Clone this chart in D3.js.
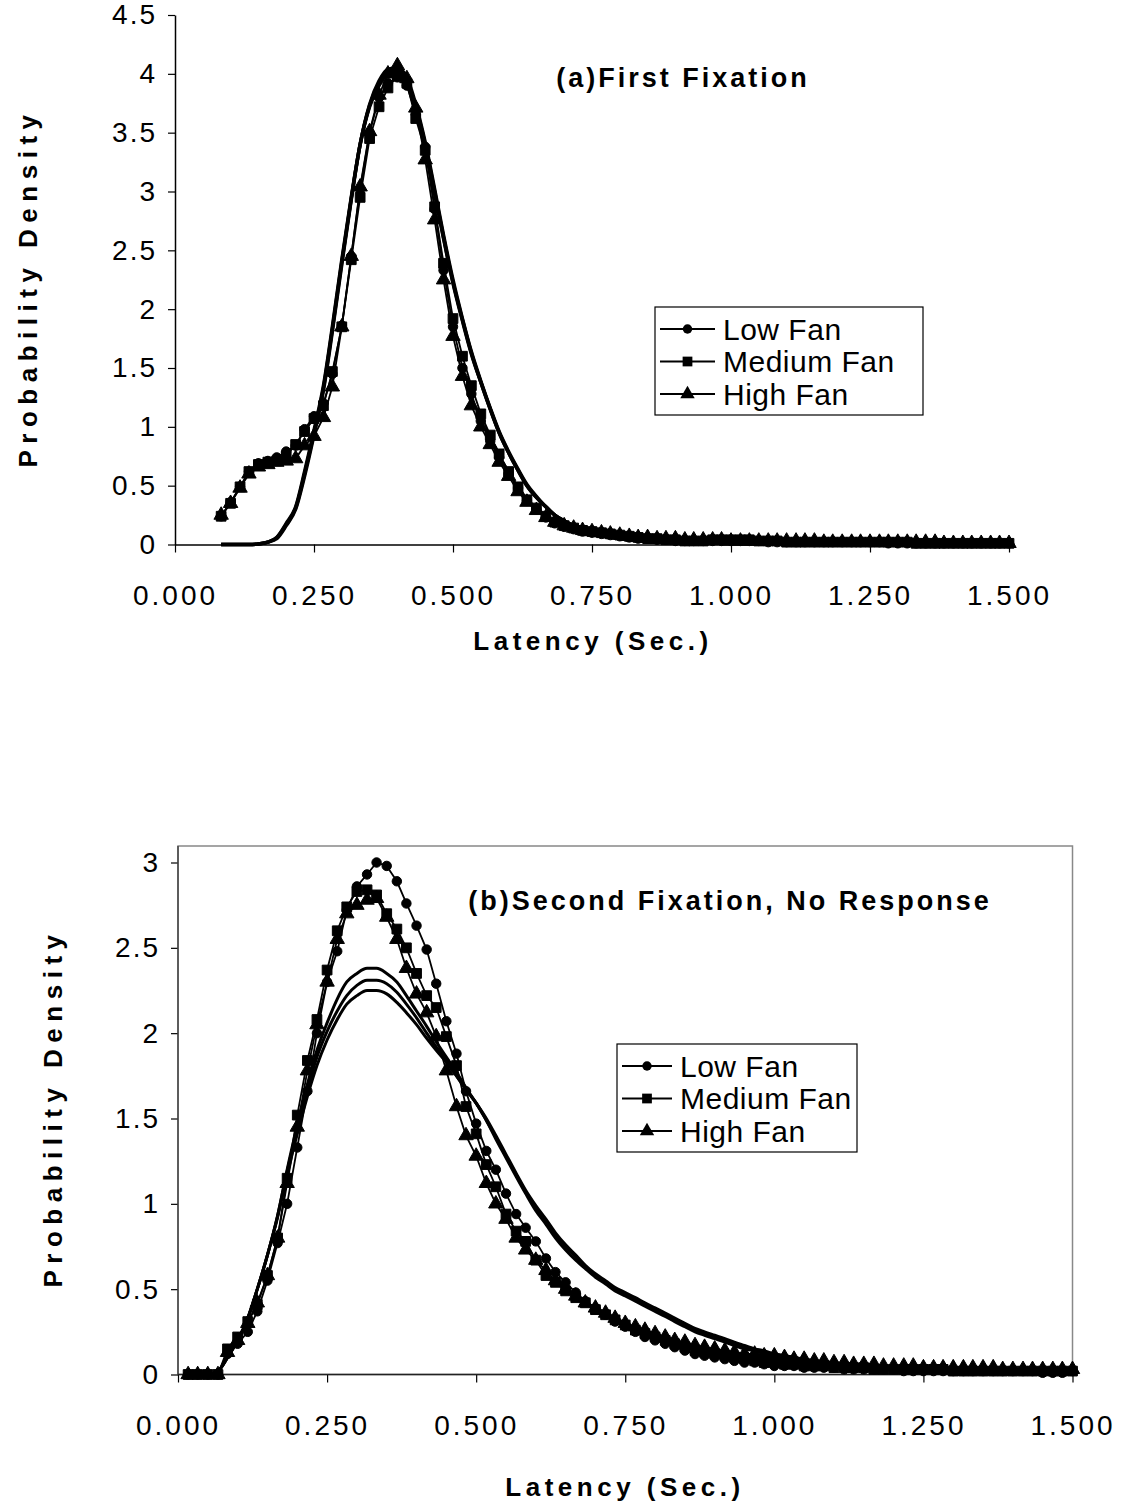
<!DOCTYPE html>
<meta charset="utf-8">
<head>
<script src="https://d3js.org/d3.v7.min.js"></script>
<style>
  body { margin: 0; background: #fff; }
  text { font-family: Arial, "Liberation Sans", sans-serif; fill: #000; }
</style>
</head>
<body>
<div id="chart"></div>
<script>

// latency of each 60 Hz frame (sec.)
var latency = [0.017,0.033,0.050,0.067,0.083,0.100,0.117,0.133,0.150,0.167,
  0.183,0.200,0.217,0.233,0.250,0.267,0.283,0.300,0.317,0.333,
  0.350,0.367,0.383,0.400,0.417,0.433,0.450,0.467,0.483,0.500,
  0.517,0.533,0.550,0.567,0.583,0.600,0.617,0.633,0.650,0.667,
  0.683,0.700,0.717,0.733,0.750,0.767,0.783,0.800,0.817,0.833,
  0.850,0.867,0.883,0.900,0.917,0.933,0.950,0.967,0.983,1.000,
  1.017,1.033,1.050,1.067,1.083,1.100,1.117,1.133,1.150,1.167,
  1.183,1.200,1.217,1.233,1.250,1.267,1.283,1.300,1.317,1.333,
  1.350,1.367,1.383,1.400,1.417,1.433,1.450,1.467,1.483,1.500];

var fanLevels = ["Low Fan", "Medium Fan", "High Fan"];
var xTicks = [0, 0.25, 0.5, 0.75, 1.0, 1.25, 1.5];
var yTicksFirst = [0, 0.5, 1, 1.5, 2, 2.5, 3, 3.5, 4, 4.5];
var yTicksSecond = [0, 0.5, 1, 1.5, 2, 2.5, 3];

// (a) first fixation: observed, starts at frame 5 (0.083 s)
var firstLow = [0.24,0.36,0.49,0.62,0.69,0.71,0.74,0.79,0.84,0.98,
  1.09,1.20,1.45,1.86,2.45,3.02,3.50,3.80,3.92,3.97,
  3.90,3.66,3.38,2.85,2.33,1.85,1.50,1.28,1.05,0.88,
  0.74,0.60,0.48,0.37,0.30,0.23,0.18,0.15,0.13,0.11,
  0.10,0.09,0.08,0.07,0.06,0.05,0.05,0.04,0.04,0.03,
  0.03,0.03,0.03,0.03,0.03,0.03,0.03,0.03,0.03,0.02,
  0.02,0.02,0.02,0.02,0.02,0.02,0.02,0.02,0.02,0.02,
  0.02,0.02,0.01,0.01,0.01,0.01,0.01,0.01,0.01,0.01,
  0.01,0.01,0.01,0.01,0.01,0.01];
var firstMedium = [0.24,0.35,0.49,0.62,0.68,0.70,0.71,0.75,0.85,0.96,
  1.07,1.18,1.47,1.85,2.42,2.95,3.45,3.72,3.88,3.98,
  3.92,3.62,3.35,2.87,2.39,1.92,1.60,1.35,1.11,0.93,
  0.77,0.62,0.49,0.38,0.31,0.24,0.19,0.16,0.14,0.12,
  0.11,0.10,0.09,0.08,0.07,0.06,0.05,0.05,0.04,0.04,
  0.03,0.03,0.03,0.04,0.04,0.04,0.04,0.04,0.03,0.03,
  0.03,0.02,0.02,0.02,0.02,0.02,0.02,0.02,0.02,0.02,
  0.02,0.02,0.02,0.02,0.02,0.01,0.01,0.01,0.01,0.01,
  0.01,0.01,0.01,0.01,0.01,0.01];
var firstHigh = [0.25,0.35,0.48,0.60,0.66,0.68,0.70,0.71,0.73,0.84,
  0.92,1.08,1.34,1.85,2.45,3.04,3.51,3.82,4.00,4.07,
  3.96,3.71,3.27,2.76,2.25,1.77,1.43,1.18,1.00,0.85,
  0.70,0.58,0.45,0.36,0.29,0.23,0.19,0.16,0.14,0.12,
  0.11,0.10,0.09,0.08,0.07,0.06,0.06,0.05,0.05,0.05,
  0.04,0.04,0.04,0.04,0.04,0.03,0.03,0.03,0.03,0.03,
  0.03,0.03,0.03,0.03,0.03,0.02,0.02,0.02,0.02,0.02,
  0.02,0.02,0.02,0.02,0.02,0.02,0.02,0.02,0.01,0.01,
  0.01,0.01,0.01,0.01,0.01,0.01];

// (a) model predictions
var firstModelLow = [0,0,0,0,0.005,0.02,0.06,0.18,0.32,0.62,
  0.97,1.35,1.85,2.42,2.95,3.40,3.72,3.90,4.00,4.02,
  3.93,3.70,3.38,2.98,2.60,2.22,1.90,1.62,1.38,1.15,
  0.95,0.78,0.63,0.50,0.40,0.32,0.25,0.20,0.16,0.13,
  0.10,0.08,0.065,0.05,0.04,0.035,0.03,0.025,0.02,0.02,
  0.02,0.015,0.015,0.015,0.01,0.01,0.01,0.01,0.01,0.01,
  0.01,0.01,0.01,0.01,0.01,0.01,0.01,0.01,0.01,0.01,
  0.005,0.005,0.005,0.005,0.005,0.005,0.005,0.005,0.005,0.005,
  0.005,0.005,0.005,0.005,0.005,0.005];
var firstModelMedium = [0,0,0,0,0.005,0.02,0.06,0.17,0.31,0.60,
  0.95,1.33,1.83,2.40,2.94,3.40,3.73,3.92,4.02,4.04,
  3.95,3.72,3.40,3.00,2.61,2.23,1.91,1.63,1.38,1.15,
  0.95,0.78,0.63,0.50,0.40,0.32,0.25,0.20,0.16,0.13,
  0.10,0.08,0.065,0.05,0.04,0.035,0.03,0.025,0.02,0.02,
  0.02,0.015,0.015,0.015,0.01,0.01,0.01,0.01,0.01,0.01,
  0.01,0.01,0.01,0.01,0.01,0.01,0.01,0.01,0.01,0.01,
  0.005,0.005,0.005,0.005,0.005,0.005,0.005,0.005,0.005,0.005,
  0.005,0.005,0.005,0.005,0.005,0.005];
var firstModelHigh = [0,0,0,0,0.005,0.02,0.05,0.16,0.30,0.58,
  0.93,1.31,1.81,2.38,2.93,3.40,3.74,3.94,4.04,4.05,
  3.97,3.74,3.42,3.02,2.63,2.25,1.92,1.64,1.39,1.16,
  0.96,0.79,0.64,0.51,0.41,0.32,0.25,0.20,0.16,0.13,
  0.10,0.08,0.065,0.05,0.04,0.035,0.03,0.025,0.02,0.02,
  0.02,0.015,0.015,0.015,0.01,0.01,0.01,0.01,0.01,0.01,
  0.01,0.01,0.01,0.01,0.01,0.01,0.01,0.01,0.01,0.01,
  0.005,0.005,0.005,0.005,0.005,0.005,0.005,0.005,0.005,0.005,
  0.005,0.005,0.005,0.005,0.005,0.005];

// (b) second fixation, no response: observed, from frame 1
var secondLow = [0,0,0,0,
  0.12,0.18,0.25,0.37,0.55,0.77,1.00,1.33,1.66,2.00,
  2.30,2.48,2.72,2.86,2.93,3.00,2.98,2.89,2.76,2.63,
  2.49,2.29,2.07,1.88,1.66,1.47,1.31,1.20,1.06,0.94,
  0.86,0.78,0.68,0.60,0.54,0.48,0.43,0.39,0.35,0.31,
  0.28,0.25,0.22,0.20,0.18,0.16,0.14,0.12,0.11,0.10,
  0.09,0.08,0.07,0.07,0.06,0.05,0.05,0.05,0.04,0.04,
  0.04,0.04,0.03,0.03,0.03,0.03,0.03,0.03,0.02,0.02,
  0.02,0.02,0.02,0.02,0.02,0.02,0.02,0.02,0.02,0.02,
  0.02,0.02,0.01,0.01,0.01,0.02];
var secondMedium = [0,0,0,0,
  0.15,0.22,0.31,0.41,0.58,0.80,1.15,1.52,1.84,2.08,
  2.37,2.60,2.74,2.83,2.84,2.81,2.70,2.61,2.50,2.35,
  2.22,2.15,1.98,1.81,1.57,1.41,1.23,1.10,0.94,0.84,
  0.78,0.67,0.58,0.54,0.49,0.45,0.42,0.38,0.35,0.32,
  0.29,0.26,0.24,0.22,0.20,0.18,0.16,0.14,0.13,0.12,
  0.11,0.10,0.09,0.08,0.07,0.07,0.06,0.06,0.05,0.05,
  0.05,0.04,0.04,0.04,0.04,0.03,0.03,0.03,0.03,0.03,
  0.03,0.03,0.03,0.02,0.02,0.02,0.02,0.02,0.02,0.02,
  0.02,0.02,0.02,0.02,0.02,0.02];
var secondHigh = [0,0,0,0,
  0.13,0.20,0.30,0.42,0.58,0.80,1.12,1.45,1.78,2.05,
  2.30,2.55,2.70,2.75,2.78,2.79,2.68,2.55,2.38,2.23,
  2.12,1.98,1.78,1.57,1.40,1.28,1.12,1.00,0.91,0.80,
  0.73,0.67,0.61,0.55,0.50,0.46,0.42,0.39,0.36,0.33,
  0.30,0.28,0.26,0.24,0.22,0.20,0.19,0.17,0.16,0.15,
  0.14,0.13,0.12,0.12,0.11,0.11,0.10,0.09,0.09,0.08,
  0.08,0.07,0.07,0.06,0.06,0.06,0.05,0.05,0.05,0.05,
  0.04,0.04,0.04,0.04,0.04,0.04,0.04,0.04,0.03,0.03,
  0.03,0.03,0.03,0.03,0.03,0.03];

// (b) model predictions
var secondModelLow = [0,0,0,0.02,
  0.10,0.20,0.33,0.50,0.70,0.93,1.20,1.46,1.70,1.90,
  2.06,2.20,2.30,2.35,2.38,2.38,2.35,2.30,2.22,2.13,
  2.04,1.95,1.86,1.77,1.68,1.59,1.49,1.38,1.27,1.16,
  1.06,0.96,0.88,0.80,0.73,0.67,0.62,0.57,0.53,0.49,
  0.46,0.43,0.40,0.37,0.34,0.31,0.28,0.25,0.23,0.21,
  0.19,0.17,0.15,0.14,0.12,0.11,0.10,0.09,0.08,0.07,
  0.065,0.06,0.05,0.045,0.04,0.035,0.03,0.03,0.025,0.025,
  0.02,0.02,0.02,0.02,0.015,0.015,0.015,0.015,0.01,0.01,
  0.01,0.01,0.01,0.01,0.01,0.01];
var secondModelMedium = [0,0,0,0.02,
  0.10,0.20,0.33,0.50,0.70,0.93,1.19,1.44,1.67,1.86,
  2.01,2.13,2.22,2.28,2.31,2.31,2.29,2.24,2.17,2.09,
  2.00,1.92,1.84,1.75,1.67,1.59,1.49,1.39,1.28,1.17,
  1.07,0.98,0.90,0.82,0.75,0.69,0.63,0.58,0.54,0.50,
  0.47,0.44,0.41,0.38,0.35,0.32,0.29,0.26,0.24,0.22,
  0.20,0.18,0.16,0.15,0.13,0.12,0.11,0.10,0.09,0.08,
  0.07,0.065,0.055,0.05,0.045,0.04,0.035,0.03,0.03,0.025,
  0.025,0.02,0.02,0.02,0.02,0.015,0.015,0.015,0.01,0.01,
  0.01,0.01,0.01,0.01,0.01,0.01];
var secondModelHigh = [0,0,0,0.02,
  0.10,0.20,0.33,0.50,0.70,0.92,1.17,1.41,1.63,1.81,
  1.96,2.08,2.17,2.22,2.25,2.25,2.23,2.18,2.12,2.05,
  1.97,1.90,1.83,1.75,1.67,1.59,1.50,1.40,1.29,1.18,
  1.08,0.99,0.91,0.83,0.76,0.70,0.64,0.59,0.55,0.51,
  0.48,0.45,0.42,0.39,0.36,0.33,0.30,0.27,0.25,0.23,
  0.21,0.19,0.17,0.15,0.14,0.12,0.11,0.10,0.09,0.08,
  0.075,0.07,0.06,0.055,0.05,0.045,0.04,0.035,0.03,0.03,
  0.025,0.025,0.02,0.02,0.02,0.02,0.015,0.015,0.015,0.01,
  0.01,0.01,0.01,0.01,0.01,0.01];

var svg = d3.select("#chart").append("svg")
  .attr("width", 1125)
  .attr("height", 1506);

var markerTypes = [d3.symbolCircle, d3.symbolSquare, d3.symbolTriangle];
var markerSizes = [70, 95, 90];

function pairUp(values) {
  var start = latency.length - values.length;
  return values.map(function(v, i) { return [latency[start + i], v]; });
}

function drawPanel(p) {
  var x = d3.scaleLinear().domain([0, 1.5]).range([p.left, p.right]);
  var y = d3.scaleLinear().domain([0, p.yMax]).range([p.bottom, p.yTop]);

  if (p.frame) {
    svg.append("rect")
      .attr("x", p.left).attr("y", p.frameTop)
      .attr("width", p.right - p.left).attr("height", p.bottom - p.frameTop)
      .attr("fill", "none").attr("stroke", "#888").attr("stroke-width", 1.5);
  }

  var yAxis = svg.append("g")
    .attr("transform", "translate(" + p.left + ",0)")
    .call(d3.axisLeft(y).tickValues(p.yTicks).tickFormat(function(d) { return String(d); })
      .tickSize(7).tickPadding(11).tickSizeOuter(0));
  var xAxis = svg.append("g")
    .attr("transform", "translate(0," + p.bottom + ")")
    .call(d3.axisBottom(x).tickValues(xTicks).tickFormat(d3.format(".3f"))
      .tickSize(8).tickPadding(42).tickSizeOuter(0));

  [yAxis, xAxis].forEach(function(ax) {
    ax.select(".domain").attr("stroke", "#000").attr("stroke-width", 1.5);
    ax.selectAll(".tick line").attr("stroke", "#000").attr("stroke-width", 1.2);
    ax.selectAll("text")
      .style("font-family", "Arial, 'Liberation Sans', sans-serif")
      .style("font-size", "28px")
      .attr("fill", "#000");
  });
  xAxis.selectAll("text").attr("dy", "0.36em").style("letter-spacing", "3px");
  yAxis.selectAll("text").style("letter-spacing", "2px");
  if (p.frame) {
    yAxis.select(".domain").remove();
    xAxis.select(".domain").remove();
    svg.append("line").attr("x1", p.left).attr("x2", p.left)
      .attr("y1", p.frameTop).attr("y2", p.bottom).attr("stroke", "#444").attr("stroke-width", 1.5);
    svg.append("line").attr("x1", p.left).attr("x2", p.right)
      .attr("y1", p.bottom).attr("y2", p.bottom).attr("stroke", "#222").attr("stroke-width", 1.5);
  }

  // axis titles
  svg.append("text")
    .attr("x", p.xTitleX).attr("y", p.xTitleY)
    .attr("text-anchor", "middle")
    .style("font-weight", "bold").style("font-size", "26px").style("letter-spacing", "4.5px")
    .text("Latency  (Sec.)");
  svg.append("text")
    .attr("transform", "translate(" + p.yTitleX + "," + p.yTitleY + ") rotate(-90)")
    .attr("text-anchor", "middle")
    .style("font-weight", "bold").style("font-size", "26px").style("letter-spacing", "6.5px")
    .text("Probability  Density");

  svg.append("text")
    .attr("x", p.titleX).attr("y", p.titleY)
    .attr("text-anchor", "middle")
    .style("font-weight", "bold").style("font-size", "27px").style("letter-spacing", "3px")
    .text(p.title);

  var smooth = d3.line()
    .x(function(d) { return x(d[0]); })
    .y(function(d) { return y(d[1]); })
    .curve(d3.curveMonotoneX);
  var straight = d3.line()
    .x(function(d) { return x(d[0]); })
    .y(function(d) { return y(d[1]); });

  // model predictions: thick smooth lines, no markers
  p.models.forEach(function(m) {
    svg.append("path")
      .attr("d", smooth(pairUp(m)))
      .attr("fill", "none")
      .attr("stroke", "#000")
      .attr("stroke-width", p.modelWidth);
  });

  // observed data with markers
  p.observed.forEach(function(s, i) {
    var pts = pairUp(s);
    svg.append("path")
      .attr("d", straight(pts))
      .attr("fill", "none")
      .attr("stroke", "#000")
      .attr("stroke-width", 1.8);
    svg.append("g").selectAll("path")
      .data(pts)
      .enter().append("path")
      .attr("transform", function(d) { return "translate(" + x(d[0]) + "," + y(d[1]) + ")"; })
      .attr("d", d3.symbol().type(markerTypes[i]).size(markerSizes[i]))
      .attr("fill", "#000")
      .attr("stroke", "#000")
      .attr("stroke-width", 1);
  });

  // legend
  var lg = svg.append("g").attr("transform", "translate(" + p.legendX + "," + p.legendY + ")");
  lg.append("rect")
    .attr("width", p.legendW).attr("height", 108)
    .attr("fill", "#fff").attr("stroke", "#000").attr("stroke-width", 1.2);
  fanLevels.forEach(function(name, i) {
    var ry = 22 + i * 32.5;
    lg.append("line").attr("x1", 5).attr("x2", p.legendLine).attr("y1", ry).attr("y2", ry)
      .attr("stroke", "#000").attr("stroke-width", 1.8);
    lg.append("path")
      .attr("transform", "translate(" + (p.legendLine + 5) / 2 + "," + ry + ")")
      .attr("d", d3.symbol().type(markerTypes[i]).size(markerSizes[i]))
      .attr("fill", "#000");
    lg.append("text")
      .attr("x", p.legendLine + 8).attr("y", ry).attr("dy", "0.36em")
      .style("font-size", "30px").style("letter-spacing", "0.5px")
      .text(name);
  });
}

drawPanel({
  left: 175, right: 1009, bottom: 544.5, yTop: 15, yMax: 4.5,
  yTicks: yTicksFirst, frame: false,
  xTitleX: 593, xTitleY: 650, yTitleX: 37, yTitleY: 288,
  title: "(a)First  Fixation", titleX: 683, titleY: 87,
  observed: [firstLow, firstMedium, firstHigh],
  models: [firstModelLow, firstModelMedium, firstModelHigh],
  modelWidth: 3.5,
  legendX: 655, legendY: 307, legendW: 268, legendLine: 60
});

drawPanel({
  left: 178, right: 1072.5, bottom: 1374.5, yTop: 862.5, yMax: 3, frameTop: 846,
  yTicks: yTicksSecond, frame: true,
  xTitleX: 625, xTitleY: 1496, yTitleX: 62, yTitleY: 1108,
  title: "(b)Second  Fixation,  No  Response", titleX: 730, titleY: 910,
  observed: [secondLow, secondMedium, secondHigh],
  models: [secondModelLow, secondModelMedium, secondModelHigh],
  modelWidth: 3,
  legendX: 617, legendY: 1044, legendW: 240, legendLine: 55
});

</script>
</body>
